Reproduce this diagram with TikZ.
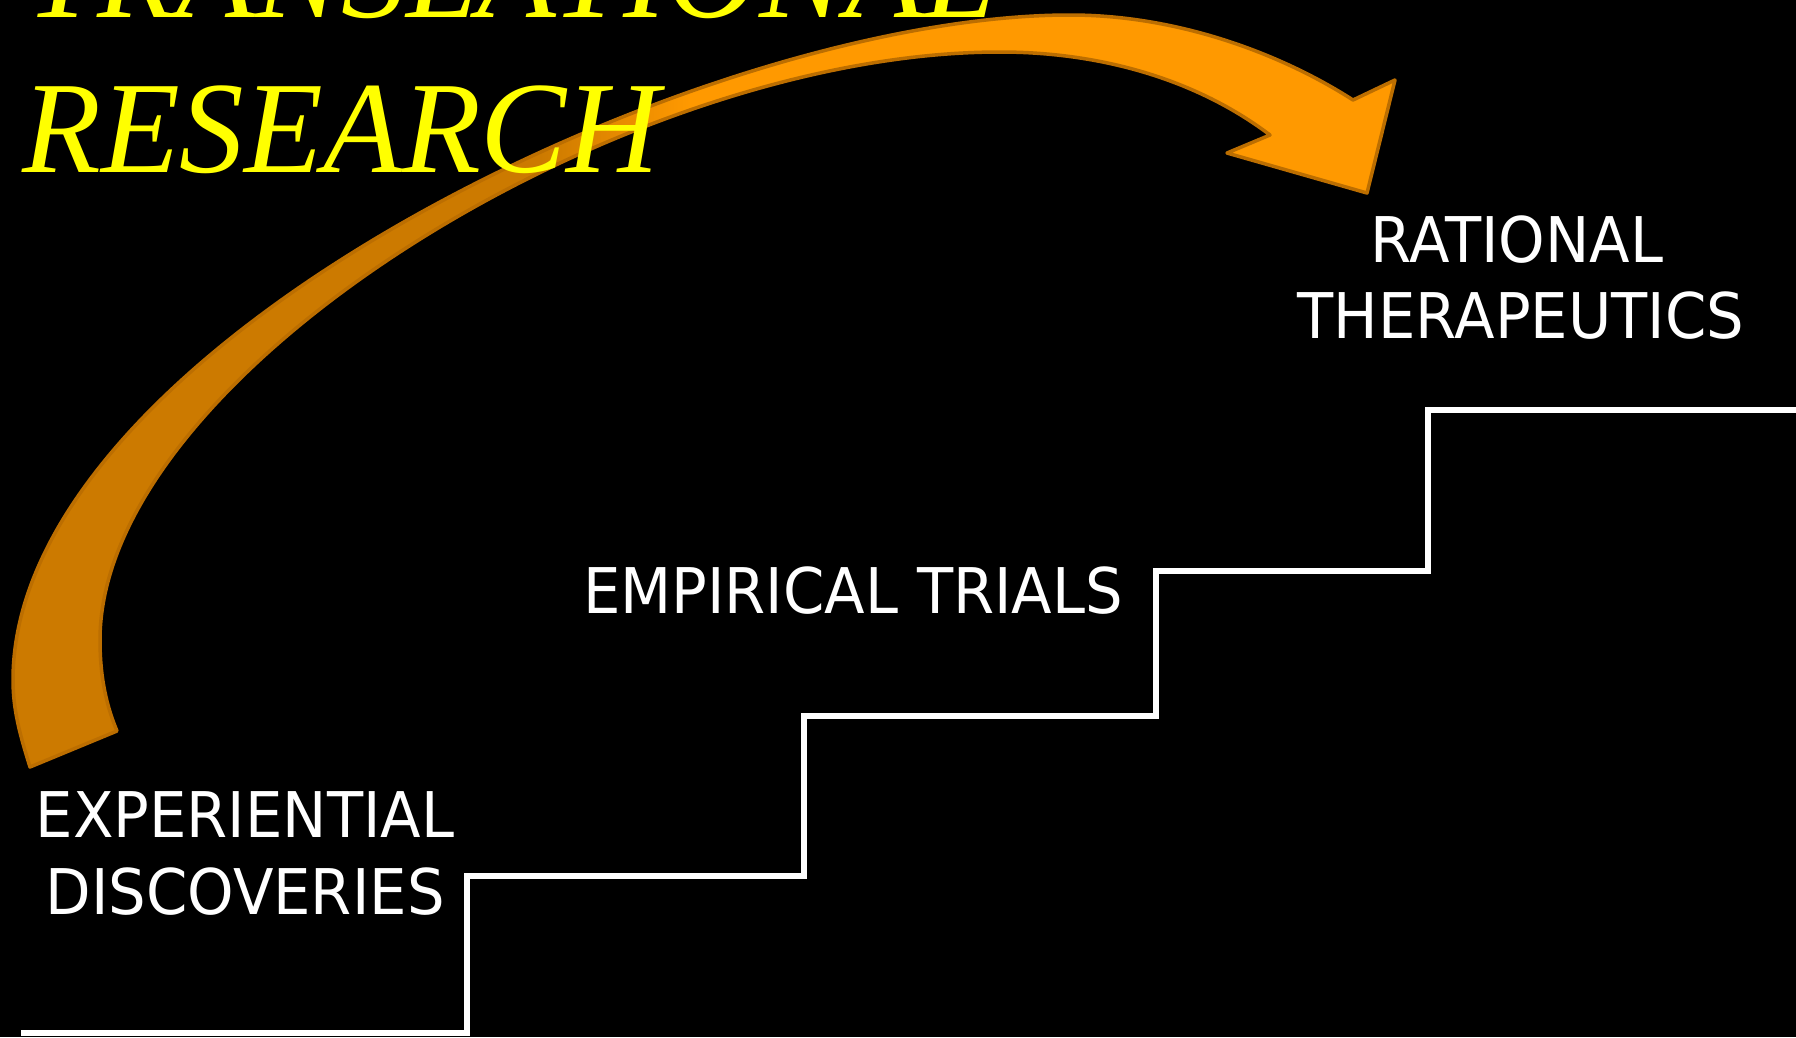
\documentclass[tikz,border=0pt]{standalone}
\usepackage{fontspec}
\newfontfamily\labelfont{DejaVu Sans}[FakeStretch=0.94]
\newfontfamily\titlefont{Liberation Serif}[FakeStretch=0.985]
\definecolor{arrowbright}{RGB}{255,153,0}
\definecolor{arrowdark}{RGB}{204,122,0}
\definecolor{arrowline}{RGB}{188,110,0}
\definecolor{titleyellow}{RGB}{255,255,0}
\newcommand\arrowpath{(30,767) .. controls (20,735) and (13,710) .. (13,680) .. controls (13,347) and (700,15) .. (1070,15) .. controls (1180,15) and (1283,55) .. (1353,100) -- (1395,80) -- (1367,193) -- (1227,153) -- (1270,135) .. controls (1196,79) and (1100,52) .. (1000,52) .. controls (622,52) and (100,375) .. (100,640) .. controls (100,670) and (104,700) .. (117,731) -- cycle}
\tikzset{
  titlestyle/.style={text=titleyellow, inner sep=0pt, anchor=base west, font=\titlefont\itshape\fontsize{131}{155}\selectfont},
  labelstyle/.style={text=white, inner sep=0pt, anchor=base, font=\labelfont\fontsize{63}{77}\selectfont},
  stairline/.style={draw=white, line width=6pt, line join=miter}
}
\begin{document}
\begin{tikzpicture}[x=1pt,y=-1pt]
\fill[black] (0,0) rectangle (1796,1037);
\useasboundingbox (0,0) rectangle (1796,1037);
% curved arrow
\begin{scope}
  \clip \arrowpath;
  \fill[arrowdark] (0,0) rectangle (545,1037);
  \shade[left color=arrowdark, right color=arrowbright] (540,0) rectangle (690,320);
  \fill[arrowbright] (689,0) rectangle (1796,320);
\end{scope}
\draw[arrowline, line width=3.5pt, line join=round] \arrowpath;
% stairs
\coordinate (s0) at (21,1033);
\coordinate (s1) at (467,1033);
\coordinate (s2) at (467,876);
\coordinate (s3) at (804,876);
\coordinate (s4) at (804,716);
\coordinate (s5) at (1156,716);
\coordinate (s6) at (1156,571);
\coordinate (s7) at (1428,571);
\coordinate (s8) at (1428,410);
\coordinate (s9) at (1796,410);
\draw[stairline] (s0) -- (s1) -- (s2) -- (s3) -- (s4) -- (s5) -- (s6) -- (s7) -- (s8) -- (s9);
% title
\node[titlestyle] (t1) at (26,17) {TRANSLATIONAL};
\node[titlestyle] (t2) at (22,172) {RESEARCH};
% labels
\node[labelstyle] (exp) at (245,837) {EXPERIENTIAL};
\node[labelstyle] (disc) at (245,914) {DISCOVERIES};
\node[labelstyle] (emp) at (853,613) {EMPIRICAL TRIALS};
\node[labelstyle] (rat) at (1517,262) {RATIONAL};
\node[labelstyle] (ther) at (1521,338) {THERAPEUTICS};
\end{tikzpicture}
\end{document}
